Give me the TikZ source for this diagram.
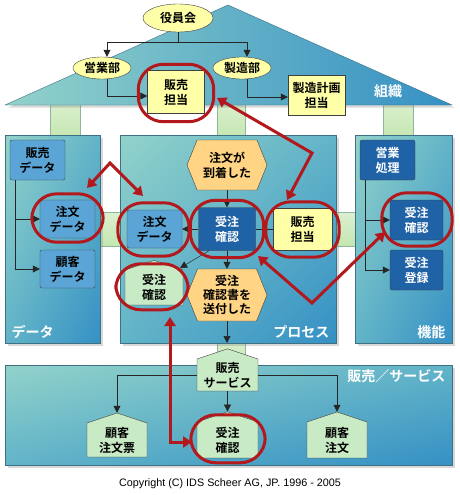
\documentclass[tikz,border=0pt]{standalone}
\usepackage{fontspec}
\setmainfont{Noto Sans CJK JP}[BoldFont={Noto Sans CJK JP Bold}]
\newfontfamily\latinfont{Liberation Sans}
\usetikzlibrary{shapes.geometric,shapes.symbols,shadows,shadings,arrows.meta}

\definecolor{tealL}{HTML}{92D2CA}
\definecolor{tealM}{HTML}{62B4C8}
\definecolor{blueD}{HTML}{3590C4}
\definecolor{panelEdge}{HTML}{3E7184}
\definecolor{pillarG}{HTML}{C4E6B0}
\definecolor{pillarEdge}{HTML}{8DB89A}
\definecolor{noteY}{HTML}{FFFFA8}
\definecolor{dataB}{HTML}{5BA4D6}
\definecolor{funcB}{HTML}{1F62A6}
\definecolor{eventO}{HTML}{FFD485}
\definecolor{docG}{HTML}{C8EAC4}
\definecolor{markR}{HTML}{B3191C}

\begin{document}
\begin{tikzpicture}[x=1pt,y=-1pt,font=\bfseries\fontsize{12}{15}\selectfont]
        \tikzstyle{box}=[draw=black!75,thin,align=center,inner sep=0pt]
        \tikzstyle{person}=[box,fill=noteY]
        \tikzstyle{orgunit}=[box,ellipse,fill=noteY]
        \tikzstyle{datab}=[box,fill=dataB,rounded corners=2pt]
        \tikzstyle{func}=[box,fill=funcB,text=white,rounded corners=2pt]
        \tikzstyle{event}=[box,signal,signal to=west and east,signal pointer angle=136,fill=eventO]
        \tikzstyle{doc}=[box,signal,signal to=north,signal pointer angle=143,fill=docG]
        \tikzstyle{panel}=[shade,draw=panelEdge,upper left=tealL,lower right=blueD,upper right=tealM,lower left=tealM,drop shadow={opacity=0.3}]
        \tikzstyle{pillar}=[draw=pillarEdge,top color=pillarG!60!white,bottom color=pillarG]
        \tikzstyle{tag}=[text=white,font=\bfseries\fontsize{14}{16}\selectfont]
        \tikzstyle{flow}=[-{Triangle[length=7pt,width=7pt]},line width=0.7pt,black!85]
        \tikzstyle{plain}=[line width=0.7pt,black!85]
        \tikzstyle{redring}=[markR,line width=3pt,rounded corners=25pt]
        \tikzstyle{redboth}=[markR,line width=3pt,{Triangle[length=9pt,width=11pt]}-{Triangle[length=9pt,width=11pt]}]

        \useasboundingbox (0,0) rectangle (460,495);

        % pillars and beams
        \path[pillar] (50,100) rectangle (80,140);
        \path[pillar] (217,100) rectangle (245,140);
        \path[pillar] (383,100) rectangle (413,140);
        \path[pillar] (95,212) rectangle (125,246);
        \path[pillar] (330,212) rectangle (360,246);
        \path[pillar] (217,338) rectangle (245,370);

        % roof and panels
        \shade[left color=tealL,right color=blueD,draw=panelEdge,drop shadow={opacity=0.3}] (5,105) -- (228,5) -- (452,105) -- cycle;
        \path[panel] (5,135) rectangle (100,343);
        \path[panel] (120,135) rectangle (336,343);
        \path[panel] (355,135) rectangle (452,343);
        \path[panel] (5,365) rectangle (452,465);

        % organisation
        \node[orgunit,minimum width=70,minimum height=28] (board) at (178,18) {役員会};
        \node[orgunit,minimum width=58,minimum height=22] (sales) at (102,68) {営業部};
        \node[orgunit,minimum width=58,minimum height=22] (mfg) at (242,68) {製造部};
        \node[person,minimum width=57,minimum height=43] (hb1) at (176,92) {販売\\担当};
        \node[person,minimum width=57,minimum height=40] (plan) at (316.5,95) {製造計画\\担当};
        \node[tag] (lorg) at (388,91) {組織};

        % data
        \node[datab,minimum width=55,minimum height=40] (sd) at (37.5,160) {販売\\データ};
        \node[datab,minimum width=55,minimum height=38] (odL) at (67.5,219) {注文\\データ};
        \node[datab,minimum width=55,minimum height=38] (cd) at (67.5,269) {顧客\\データ};
        \node[tag,anchor=west] (ldata) at (8,332) {データ};

        % process
        \node[event,minimum width=80,minimum height=50] (ev1) at (227,165) {注文が\\到着した};
        \node[func,minimum width=57,minimum height=43] (ok) at (227,229) {受注\\確認};
        \node[datab,minimum width=55,minimum height=38] (odM) at (154.5,229) {注文\\データ};
        \node[person,minimum width=59,minimum height=42] (hb2) at (302.5,229) {販売\\担当};
        \node[doc,minimum width=58,minimum height=39] (gp) at (154,287.5) {受注\\確認};
        \node[event,minimum width=80,minimum height=52,font=\bfseries\fontsize{12}{14}\selectfont] (ev2) at (227,295) {受注\\確認書を\\送付した};
        \node[tag,anchor=east] (lproc) at (333,332) {プロセス};
        \coordinate (pbot) at (227,343);

        % function
        \node[func,minimum width=55,minimum height=40] (eg) at (387.5,160) {営業\\処理};
        \node[func,minimum width=53,minimum height=40] (okR) at (416.5,220) {受注\\確認};
        \node[func,minimum width=53,minimum height=40] (reg) at (416.5,270) {受注\\登録};
        \node[tag,anchor=east] (lfunc) at (449,332) {機能};

        % sales / service
        \node[doc,minimum width=61,minimum height=40] (svc) at (227.5,375) {販売\\サービス};
        \node[doc,minimum width=60,minimum height=40] (ocs) at (117,440) {顧客\\注文票};
        \node[doc,minimum width=61,minimum height=40] (okB) at (227.5,440) {受注\\確認};
        \node[doc,minimum width=60,minimum height=40] (co) at (337,440) {顧客\\注文};
        \node[tag,anchor=east] (lsvc) at (449,376) {販売／サービス};

        \node[font=\latinfont\fontsize{10.8}{12}\selectfont] (copy) at (230,484) {Copyright (C) IDS Scheer AG, JP. 1996 - 2005};

        % black connectors
        \draw[flow] (board.south) -- ++(0,10) -| ([xshift=5pt]sales.north);
        \draw[flow] (board.south) -- ++(0,10) -| ([xshift=5pt]mfg.north);
        \draw[flow] ([xshift=5pt]sales.south) |- ([yshift=-4pt]hb1.west);
        \draw[flow] ([xshift=5pt]mfg.south) |- ([yshift=-2pt]plan.west);
        \draw[flow] ([xshift=-22.5pt]sd.south) |- (odL.west);
        \draw[flow] ([xshift=-22.5pt]sd.south) |- (cd.west);
        \draw[flow] (ev1.south) -- (ok.north);
        \draw[flow] (ok.west) -- (odM.east);
        \draw[plain] (ok.east) -- (hb2.west);
        \draw[flow] (ok.south) -- (ev2.north);
        \draw[flow,line width=0.5pt] ([xshift=-18pt]ok.south) -- ([shift={(26,8)}]gp.north);
        \draw[flow] (ev2.south) -- (pbot);
        \draw[flow] ([xshift=-22.5pt]eg.south) |- (okR.west);
        \draw[flow] ([xshift=-22.5pt]eg.south) |- (reg.west);
        \draw[flow] (svc.west) -| (ocs.north);
        \draw[flow] (svc.east) -| (co.north);
        \draw[flow] (svc.south) -- (okB.north);

        % red marks
        \draw[redring] ([shift={(-9,-6)}]hb1.north west) rectangle ([shift={(9,8)}]hb1.south east);
        \draw[redring] ([shift={(-8,-6)}]odL.north west) rectangle ([shift={(8,4)}]odL.south east);
        \draw[redring] ([shift={(-9,-7)}]odM.north west) rectangle ([shift={(7,8)}]odM.south east);
        \draw[redring] ([shift={(-8,-7)}]ok.north west) rectangle ([shift={(8,7)}]ok.south east);
        \draw[redring] ([shift={(-7,-6)}]hb2.north west) rectangle ([shift={(7,7)}]hb2.south east);
        \draw[redring] ([shift={(-9,-6)}]gp.north west) rectangle ([shift={(5,5)}]gp.south east);
        \draw[redring] ([shift={(-8,-7)}]okR.north west) rectangle ([shift={(9,6)}]okR.south east);
        \draw[redring] ([shift={(-6,-7)}]okB.north west) rectangle ([shift={(7,5)}]okB.south east);

        \coordinate (rA) at (110,163);
        \coordinate (rA1) at (87,188);
        \coordinate (rA2) at (143,196);
        \coordinate (rB) at (312,153);
        \coordinate (rB1) at (217,98);
        \coordinate (rB2) at (287,200);
        \coordinate (rC) at (312,303);
        \coordinate (rC1) at (258,256);
        \coordinate (rC2) at (385,232);
        \coordinate (rD) at (170,442);
        \coordinate (rD1) at (170,317);
        \coordinate (rD2) at (192,442);
        \draw[redboth] (rA1) -- (rA) -- (rA2);
        \draw[redboth] (rB1) -- (rB) -- (rB2);
        \draw[redboth] (rC1) -- (rC) -- (rC2);
        \draw[redboth] (rD1) -- (rD) -- (rD2);
\end{tikzpicture}
\end{document}
